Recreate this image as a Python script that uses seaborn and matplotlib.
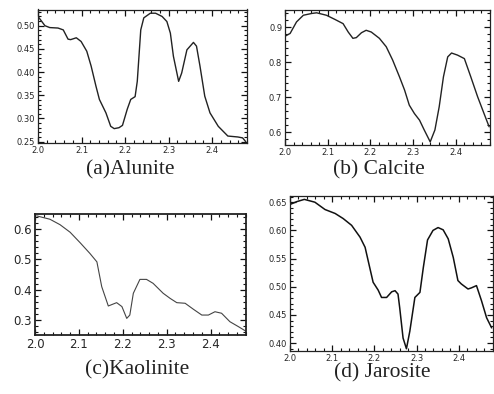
import numpy as np
import pandas as pd
import matplotlib
matplotlib.use("Agg")
import matplotlib.pyplot as plt
import seaborn as sns
from matplotlib.ticker import MultipleLocator, AutoMinorLocator, FormatStrFormatter

# Wavelength (um) / reflectance
alunite_x = [2.000, 2.016, 2.027, 2.046, 2.058, 2.069, 2.075, 2.088, 2.099, 2.112, 2.122, 2.133,
             2.141, 2.156, 2.167, 2.175, 2.186, 2.194, 2.205, 2.213, 2.223, 2.228, 2.236, 2.243,
             2.258, 2.270, 2.285, 2.296, 2.304, 2.311, 2.323, 2.330, 2.342, 2.357, 2.364, 2.372,
             2.383, 2.395, 2.414, 2.436, 2.459, 2.470, 2.477]
alunite_y = [0.520, 0.500, 0.496, 0.495, 0.491, 0.471, 0.470, 0.474, 0.466, 0.445, 0.413, 0.370,
             0.341, 0.312, 0.283, 0.278, 0.280, 0.285, 0.320, 0.341, 0.347, 0.380, 0.491, 0.517,
             0.527, 0.527, 0.520, 0.509, 0.484, 0.434, 0.380, 0.398, 0.448, 0.464, 0.456, 0.413,
             0.348, 0.312, 0.283, 0.262, 0.260, 0.258, 0.250]

calcite_x = [2.000, 2.012, 2.027, 2.043, 2.062, 2.074, 2.097, 2.117, 2.136, 2.148, 2.159, 2.167,
             2.179, 2.190, 2.202, 2.221, 2.237, 2.252, 2.268, 2.280, 2.291, 2.303, 2.315, 2.326,
             2.340, 2.351, 2.361, 2.371, 2.381, 2.390, 2.404, 2.420, 2.435, 2.451, 2.466, 2.478]
calcite_y = [0.875, 0.883, 0.916, 0.935, 0.940, 0.942, 0.935, 0.923, 0.911, 0.887, 0.869, 0.871,
             0.885, 0.892, 0.887, 0.869, 0.845, 0.807, 0.759, 0.721, 0.678, 0.654, 0.635, 0.607,
             0.573, 0.607, 0.673, 0.759, 0.816, 0.827, 0.821, 0.811, 0.759, 0.702, 0.654, 0.616]

kaolinite_x = [2.004, 2.034, 2.057, 2.080, 2.103, 2.125, 2.141, 2.152, 2.167, 2.186, 2.198, 2.209,
               2.216, 2.224, 2.239, 2.254, 2.269, 2.292, 2.308, 2.323, 2.342, 2.361, 2.380, 2.395,
               2.410, 2.425, 2.444, 2.463, 2.480]
kaolinite_y = [0.644, 0.633, 0.615, 0.590, 0.555, 0.520, 0.492, 0.410, 0.346, 0.357, 0.344, 0.305,
               0.316, 0.388, 0.434, 0.434, 0.421, 0.388, 0.371, 0.357, 0.355, 0.335, 0.316, 0.316,
               0.327, 0.322, 0.294, 0.278, 0.263]

jarosite_x = [2.000, 2.016, 2.034, 2.059, 2.083, 2.107, 2.126, 2.146, 2.166, 2.178, 2.189, 2.197,
              2.209, 2.217, 2.229, 2.241, 2.249, 2.256, 2.260, 2.268, 2.276, 2.284, 2.296, 2.308,
              2.316, 2.326, 2.339, 2.351, 2.363, 2.375, 2.387, 2.398, 2.406, 2.422, 2.430, 2.442,
              2.454, 2.466, 2.478]
jarosite_y = [0.646, 0.651, 0.655, 0.650, 0.637, 0.630, 0.621, 0.609, 0.588, 0.570, 0.534, 0.508,
              0.494, 0.481, 0.481, 0.491, 0.493, 0.487, 0.463, 0.409, 0.390, 0.421, 0.481, 0.490,
              0.534, 0.583, 0.600, 0.605, 0.601, 0.585, 0.552, 0.511, 0.505, 0.496, 0.498, 0.502,
              0.475, 0.445, 0.427]

captions = ["(a)Alunite", "(b) Calcite", "(c)Kaolinite", "(d) Jarosite"]

sns.set_style("ticks")
plt.rcParams['font.family'] = ['DejaVu Sans']

W, H = 494, 394
fig = plt.figure(figsize=(W / 100, H / 100), dpi=100)


def box(left, right, top, bottom):
    # pixel box -> figure fraction
    return [left / W, (H - bottom) / H, (right - left) / W, (bottom - top) / H]


panels = [
    (alunite_x, alunite_y, box(38, 247, 9.5, 143), (0.247, 0.535), 0.05, "%.2f", 6, "#222222", 1.0),
    (calcite_x, calcite_y, box(285, 490, 10, 145), (0.564, 0.950), 0.1, "%.1f", 6, "#222222", 1.0),
    (kaolinite_x, kaolinite_y, box(35, 245.7, 213.5, 335), (0.250, 0.652), 0.1, "%.1f", 8.5, "#444444", 0.8),
    (jarosite_x, jarosite_y, box(290, 492.5, 196, 351), (0.386, 0.661), 0.05, "%.2f", 6, "#111111", 1.1),
]
cap_pos = [(130, 170), (379, 170), (137, 370), (382, 373)]

for (xs, ys, rect, ylim, ystep, fmt, fs, col, lw), cap, (cx, cy) in zip(panels, captions, cap_pos):
    ax = fig.add_axes(rect)
    df = pd.DataFrame({"wl": xs, "r": ys})
    sns.lineplot(data=df, x="wl", y="r", ax=ax, color=col, linewidth=lw)
    ax.set_xlim(2.0, 2.48)
    ax.set_ylim(*ylim)
    ax.xaxis.set_major_locator(MultipleLocator(0.1))
    ax.yaxis.set_major_locator(MultipleLocator(ystep))
    ax.xaxis.set_minor_locator(AutoMinorLocator(5))
    ax.yaxis.set_minor_locator(AutoMinorLocator(5))
    ax.xaxis.set_major_formatter(FormatStrFormatter("%.1f"))
    ax.yaxis.set_major_formatter(FormatStrFormatter(fmt))
    ax.tick_params(which="both", direction="in", top=True, right=True,
                   labelsize=fs, pad=2, color="#111111")
    ax.tick_params(which="major", length=4, width=0.9)
    ax.tick_params(which="minor", length=2.5, width=0.8)
    ax.set_xlabel("")
    ax.set_ylabel("")
    for s in ax.spines.values():
        s.set_linewidth(1.3 if fs > 7 else 0.9)
        s.set_color("#222222")
    fig.text(cx / W, 1 - cy / H, cap, ha="center", va="center",
             fontsize=15.5, family=["Liberation Serif"], color="#222222")

fig.savefig("out.png", dpi=100)
